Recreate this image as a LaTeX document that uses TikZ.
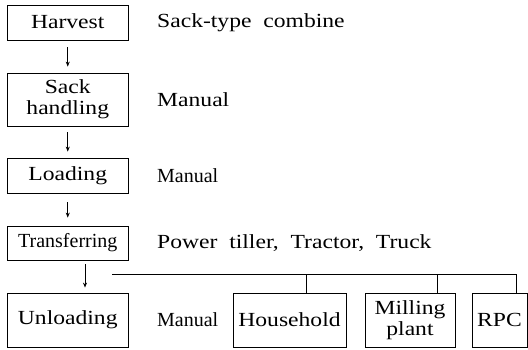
\documentclass[tikz,border=0pt]{standalone}
\usepackage{fontspec}
\setmainfont{Liberation Serif}
\newfontfamily\widefont{Liberation Serif}[FakeStretch=1.18,WordSpace=2]
\usetikzlibrary{arrows.meta}
\begin{document}
\begin{tikzpicture}[x=1pt,y=1pt,
  stepbox/.style={draw,line width=0.8pt,rectangle,inner sep=0pt,minimum width=120.5pt,align=center},
  widetext/.style={font=\widefont\fontsize{20}{21}\selectfont},
  narrowtext/.style={font=\fontsize{20}{21}\selectfont},
  sidelabel/.style={anchor=west,inner sep=0pt},
  flowarrow/.style={-{Stealth[length=5pt,width=4pt]},line width=0.7pt},
  busline/.style={line width=0.8pt}]
\useasboundingbox (0,0) rectangle (528,349);
% process boxes
\node[stepbox,widetext,minimum height=35pt] (harvest) at (67.75,326.5) {Harvest};
\node[stepbox,widetext,minimum height=53pt] (sack) at (67.75,249.5) {Sack\\handling};
\node[stepbox,widetext,minimum height=35pt] (loading) at (67.75,173.5) {Loading};
\node[stepbox,narrowtext,minimum height=34pt] (transfer) at (67.75,106) {Transferring};
\node[stepbox,widetext,minimum height=54pt] (unload) at (67.75,29) {Unloading};
% destination boxes
\node[stepbox,widetext,minimum height=54pt,minimum width=113pt] (house) at (289.5,29) {Household};
\node[stepbox,widetext,minimum height=54pt,minimum width=90pt] (mill) at (410,29) {Milling\\plant};
\node[stepbox,widetext,minimum height=54pt,minimum width=55pt] (rpc) at (499.5,29) {RPC};
% side labels
\node[sidelabel,widetext] (l1) at (157,326.5) {Sack-type combine};
\node[sidelabel,widetext] (l2) at (157,249.5) {Manual};
\node[sidelabel,narrowtext] (l3) at (157,173.5) {Manual};
\node[sidelabel,widetext] (l4) at (157,106) {Power tiller, Tractor, Truck};
\node[sidelabel,narrowtext] (l5) at (157,29) {Manual};
% arrows
\draw[flowarrow,shorten <=7pt,shorten >=6pt] (harvest) -- (sack);
\draw[flowarrow,shorten <=6pt,shorten >=6pt] (sack) -- (loading);
\draw[flowarrow,shorten <=9pt,shorten >=8pt] (loading) -- (transfer);
\draw[flowarrow,line width=1pt,shorten <=4pt,shorten >=5pt] ([xshift=17.25pt]transfer.south) -- ([xshift=17.25pt]unload.north);
% distribution bus
\coordinate (bstart) at (112,75);
\coordinate (dh) at (306,75);
\coordinate (dm) at (437,75);
\coordinate (dr) at (516,75);
\draw[busline] (bstart) -- (dr) -- (dr |- rpc.north);
\draw[busline] (dh) -- (dh |- house.north);
\draw[busline] (dm) -- (dm |- mill.north);
\end{tikzpicture}
\end{document}
